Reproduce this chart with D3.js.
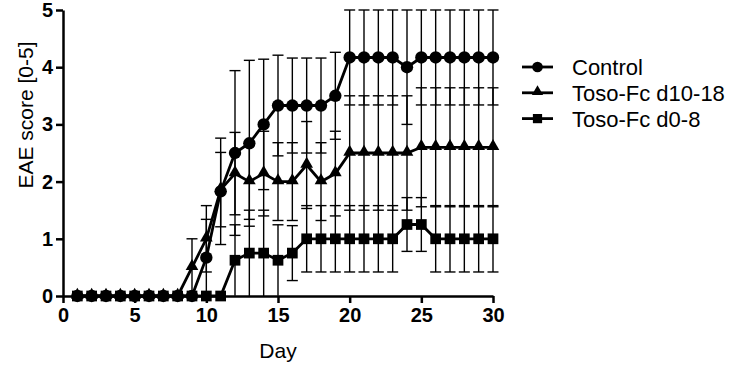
<!DOCTYPE html>
<html>
<head>
<meta charset="utf-8">
<script src="https://cdn.jsdelivr.net/npm/d3@7"></script>
<style>
body { margin: 0; background: #fff; }
text { font-family: "Liberation Sans", Arial, sans-serif; }
</style>
</head>
<body>
<script>
// Days of observation
const days = [1,2,3,4,5,6,7,8,9,10,11,12,13,14,15,16,17,18,19,20,21,22,23,24,25,26,27,28,29,30];

// Mean EAE score per group
const control = [0,0,0,0,0,0,0,0,0,0.67,1.83,2.5,2.67,3.0,3.33,3.33,3.33,3.33,3.5,4.17,4.17,4.17,4.17,4.0,4.17,4.17,4.17,4.17,4.17,4.17];
const controlErr = [0,0,0,0,0,0,0,0,0,0.67,0.93,1.44,1.45,1.14,0.88,0.83,0.83,0.83,0.76,0.83,0.83,0.83,0.83,1.0,0.83,0.83,0.83,0.83,0.83,0.83];

const tosoLate = [0,0,0,0,0,0,0,0,0.5,1.0,1.86,2.14,2.0,2.14,2.0,2.0,2.29,2.0,2.14,2.5,2.5,2.5,2.5,2.5,2.6,2.6,2.6,2.6,2.6,2.6];
const tosoLateErr = [0,0,0,0,0,0,0,0,0.5,0.58,0.65,0.72,0.66,0.74,0.68,0.68,0.76,0.68,0.74,1.0,1.0,1.0,1.0,1.0,1.04,1.04,1.04,1.04,1.04,1.04];

const tosoEarly = [0,0,0,0,0,0,0,0,0,0,0,0.625,0.75,0.75,0.625,0.75,1,1,1,1,1,1,1,1.25,1.25,1,1,1,1,1];
const tosoEarlyErr = [0,0,0,0,0,0,0,0,0,0,0,0.62,0.75,0.75,0.62,0.48,0.58,0.58,0.58,0.58,0.58,0.58,0.58,0.47,0.47,0.58,0.58,0.58,0.58,0.58];

const seriesNames = ["Control", "Toso-Fc d10-18", "Toso-Fc d0-8"];
const xTicks = [0,5,10,15,20,25,30];
const yTicks = [0,1,2,3,4,5];

const width = 738;
const height = 366;

const series = [
  {name: seriesNames[0], mean: control, err: controlErr, shape: d3.symbolCircle, size: 120},
  {name: seriesNames[1], mean: tosoLate, err: tosoLateErr, shape: d3.symbolTriangle, size: 70},
  {name: seriesNames[2], mean: tosoEarly, err: tosoEarlyErr, shape: d3.symbolSquare, size: 115}
];

const svg = d3.select("body")
  .append("svg")
  .attr("width", width)
  .attr("height", height);

svg.append("rect").attr("width", width).attr("height", height).attr("fill", "#fff");

const x = d3.scaleLinear().domain([0, 30]).range([63, 493]);
const y = d3.scaleLinear().domain([0, 5]).range([296, 10]);

// axes
const xAxis = svg.append("g")
  .attr("transform", "translate(0," + y(0) + ")")
  .call(d3.axisBottom(x).tickValues(xTicks).tickFormat(d3.format("d"))
    .tickSize(7).tickSizeOuter(0).tickPadding(5));

const yAxis = svg.append("g")
  .attr("transform", "translate(" + x(0) + ",0)")
  .call(d3.axisLeft(y).tickValues(yTicks).tickFormat(d3.format("d"))
    .tickSize(7).tickSizeOuter(0).tickPadding(3));

[xAxis, yAxis].forEach(function(g){
  g.select(".domain").attr("stroke", "#000").attr("stroke-width", 2.5);
  g.selectAll(".tick line").attr("stroke", "#000").attr("stroke-width", 2.5);
  g.selectAll(".tick text")
    .attr("fill", "#000")
    .attr("font-size", "20px")
    .attr("font-weight", "bold")
    .attr("font-family", "'Liberation Sans', Arial, sans-serif");
});

// axis titles
svg.append("text")
  .attr("x", (x(0) + x(30)) / 2)
  .attr("y", 358)
  .attr("text-anchor", "middle")
  .attr("font-size", "21px")
  .text("Day");

svg.append("text")
  .attr("transform", "rotate(-90)")
  .attr("x", -115)
  .attr("y", 33)
  .attr("text-anchor", "middle")
  .attr("font-size", "21px")
  .text("EAE score [0-5]");

const line = d3.line()
  .x(function(d){ return x(d.day); })
  .y(function(d){ return y(d.v); });

const capHalf = 5.5;

series.forEach(function(s){
  const pts = days.map(function(d, i){ return {day: d, v: s.mean[i], e: s.err[i]}; });
  const g = svg.append("g");

  // error bars
  const eb = g.selectAll("g.eb")
    .data(pts.filter(function(p){ return p.e > 0; }))
    .enter()
    .append("g")
    .attr("class", "eb");

  eb.append("line")
    .attr("x1", function(p){ return x(p.day); })
    .attr("x2", function(p){ return x(p.day); })
    .attr("y1", function(p){ return y(Math.min(5, p.v + p.e)); })
    .attr("y2", function(p){ return y(Math.max(0, p.v - p.e)); })
    .attr("stroke", "#000")
    .attr("stroke-width", 1.4);

  eb.append("line")
    .attr("x1", function(p){ return x(p.day) - capHalf; })
    .attr("x2", function(p){ return x(p.day) + capHalf; })
    .attr("y1", function(p){ return y(p.v + p.e); })
    .attr("y2", function(p){ return y(p.v + p.e); })
    .attr("stroke", "#000")
    .attr("stroke-width", 1.4);

  eb.filter(function(p){ return p.v - p.e > 0.02; })
    .append("line")
    .attr("x1", function(p){ return x(p.day) - capHalf; })
    .attr("x2", function(p){ return x(p.day) + capHalf; })
    .attr("y1", function(p){ return y(p.v - p.e); })
    .attr("y2", function(p){ return y(p.v - p.e); })
    .attr("stroke", "#000")
    .attr("stroke-width", 1.4);

  g.append("path")
    .datum(pts)
    .attr("d", line)
    .attr("fill", "none")
    .attr("stroke", "#000")
    .attr("stroke-width", 2.8);

  g.selectAll("path.mark")
    .data(pts)
    .enter()
    .append("path")
    .attr("class", "mark")
    .attr("transform", function(p){
      const dy = s.shape === d3.symbolTriangle ? -1 : 0;
      return "translate(" + x(p.day) + "," + (y(p.v) + dy) + ")";
    })
    .attr("d", d3.symbol().type(s.shape).size(s.size))
    .attr("fill", "#000");
});

// legend
const legend = svg.append("g").attr("transform", "translate(522,67)");

const legendSizes = [90, 55, 85];

legend.selectAll("g.item")
  .data(series)
  .enter()
  .append("g")
  .attr("class", "item")
  .attr("transform", function(d, i){ return "translate(0," + i * 25.8 + ")"; })
  .each(function(d, i){
    const item = d3.select(this);
    item.append("line")
      .attr("x1", 0).attr("x2", 31)
      .attr("y1", 0).attr("y2", 0)
      .attr("stroke", "#000")
      .attr("stroke-width", 2.8);
    item.append("path")
      .attr("transform", "translate(15.5," + (d.shape === d3.symbolTriangle ? -1 : 0) + ")")
      .attr("d", d3.symbol().type(d.shape).size(legendSizes[i]))
      .attr("fill", "#000");
    item.append("text")
      .attr("x", 50)
      .attr("y", 8)
      .attr("font-size", "22px")
      .text(d.name);
  });
</script>
</body>
</html>
